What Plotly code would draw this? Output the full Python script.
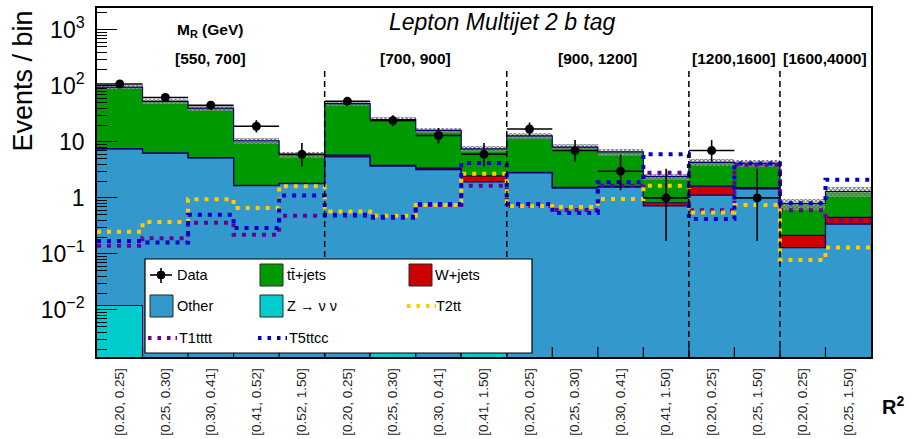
import plotly.graph_objects as go

# ---------------- data ----------------
bin_labels = ["[0.20, 0.25]", "[0.25, 0.30]", "[0.30, 0.41]", "[0.41, 0.52]", "[0.52, 1.50]",
              "[0.20, 0.25]", "[0.25, 0.30]", "[0.30, 0.41]", "[0.41, 1.50]",
              "[0.20, 0.25]", "[0.25, 0.30]", "[0.30, 0.41]", "[0.41, 1.50]",
              "[0.20, 0.25]", "[0.25, 1.50]",
              "[0.20, 0.25]", "[0.25, 1.50]"]
mr_groups = ["[550, 700]", "[700, 900]", "[900, 1200]", "[1200,1600]", "[1600,4000]"]
mr_group_sizes = [5, 4, 4, 2, 2]

znunu = [0.012, 0, 0, 0, 0, 0, 0.0017, 0, 0.0017, 0, 0, 0, 0, 0, 0, 0, 0]
other = [7.5, 6.3, 5.2, 1.65, 1.8, 5.4, 3.7, 3.2, 1.93, 2.8, 1.5, 1.55, 0.72, 1.12, 1.45, 0.13, 0.34]
wjets = [0.03, 0.03, 0.03, 0.02, 0.02, 0.4, 0.12, 0.2, 0.55, 0.05, 0.04, 0.06, 0.1, 0.5, 0.07, 0.085, 0.11]
ttjets = [87.5, 46.7, 34.8, 8.8, 4.1, 42.2, 21.2, 12.6, 5.0, 9.95, 6.5, 5.0, 1.6, 2.7, 2.6, 0.58, 0.85]
bkg_unc = [8, 5, 4, 1.2, 0.7, 4, 2.5, 1.8, 0.9, 1.6, 1.0, 1.0, 0.3, 0.6, 0.6, 0.18, 0.25]

data = [108, 62, 45, 19, 6, 53, 24, 13, 6, 17, 7, 3, 1, 7, 1, 0, 0]
data_err_dn = [10.3, 7.9, 6.7, 4.3, 2.38, 7.3, 4.9, 3.6, 2.38, 4.1, 2.58, 1.63, 0.83, 2.58, 0.83, 0, 0]
data_err_up = [11.4, 8.9, 7.7, 5.4, 3.58, 8.3, 5.9, 4.7, 3.58, 5.2, 3.77, 2.92, 2.30, 3.77, 2.30, 1.84, 1.84]

t2tt = [0.25, 0.37, 0.95, 0.66, 1.62, 0.57, 0.48, 0.75, 2.7, 0.72, 0.69, 0.96, 1.65, 0.55, 0.75, 0.078, 0.13]
t5ttcc = [0.17, 0.16, 0.5, 0.29, 1.1, 0.5, 0.46, 0.78, 4.2, 0.78, 0.54, 1.9, 6.0, 0.42, 4.1, 0.8, 2.1]
t1tttt = [0.14, 0.19, 0.36, 0.22, 0.48, 0.48, 0.44, 0.75, 1.65, 0.72, 0.61, 1.65, 2.8, 0.6, 3.9, 0.6, 0.4]

# ---------------- styles ----------------
FONT = "Liberation Sans"
C_TT = "rgb(0,153,0)"
C_OTHER = "rgb(51,153,204)"
C_Z = "rgb(0,204,204)"
C_W = "rgb(204,0,0)"
C_T2 = "rgb(255,204,0)"
C_T5 = "rgb(0,0,204)"
C_T1 = "rgb(102,0,153)"
NAVY = "rgb(0,0,110)"
SIG_DASH = "4px,6px"

n = len(bin_labels)
centers = [i + 0.5 for i in range(n)]
edges = list(range(n + 1))

cum_z = list(znunu)
cum_o = [a + b for a, b in zip(cum_z, other)]
cum_w = [a + b for a, b in zip(cum_o, wjets)]
cum_t = [a + b for a, b in zip(cum_w, ttjets)]


def step(vals):
    return vals + [vals[-1]]


fig = go.Figure()

# stacked backgrounds drawn as overlaid cumulative histograms (largest first)
for cum, col in [(cum_t, C_TT), (cum_w, C_W), (cum_o, C_OTHER)]:
    fig.add_trace(go.Bar(x=centers, y=cum, width=1.0, marker=dict(color=col, line=dict(width=0)),
                         showlegend=False, hoverinfo="skip"))
fig.add_trace(go.Bar(x=centers, y=cum_z, width=1.0, marker=dict(color=C_Z, line=dict(width=1, color=NAVY)),
                     showlegend=False, hoverinfo="skip"))

# outlines of stack levels
for cum in [cum_o, cum_w, cum_t]:
    fig.add_trace(go.Scatter(x=edges, y=step(cum), mode="lines", line=dict(color=NAVY, width=1.2, shape="hv"),
                             showlegend=False, hoverinfo="skip"))

# uncertainty band
fig.add_trace(go.Bar(x=centers, y=[2 * u for u in bkg_unc], base=[t - u for t, u in zip(cum_t, bkg_unc)],
                     width=1.0,
                     marker=dict(color="rgba(0,0,0,0)", line=dict(width=0),
                                 pattern=dict(shape="x", size=3, solidity=0.5, fgcolor="rgb(95,95,95)",
                                              bgcolor="rgba(255,255,255,0.35)", fillmode="replace")),
                     showlegend=False, hoverinfo="skip"))

# signals
for sig, col in [(t1tttt, C_T1), (t2tt, C_T2), (t5ttcc, C_T5)]:
    fig.add_trace(go.Scatter(x=edges, y=step(sig), mode="lines",
                             line=dict(color=col, width=4, shape="hv", dash=SIG_DASH),
                             showlegend=False, hoverinfo="skip"))

# data
fig.add_trace(go.Scatter(x=centers, y=data, mode="markers",
                         marker=dict(color="black", size=9),
                         error_y=dict(type="data", symmetric=False, array=data_err_up, arrayminus=data_err_dn,
                                      color="black", thickness=1.6, width=0),
                         error_x=dict(type="constant", value=0.5, color="black", thickness=1.6, width=0),
                         showlegend=False, hoverinfo="skip"))

# ---------------- layout helpers ----------------
L, R, T, B = 97, 871, 8, 357
W_PX, H_PX = R - L, B - T


def px(xp):
    return (xp - L) / W_PX


def py(yp):
    return (B - yp) / H_PX


shapes = []
annotations = []

# x-axis ticks at bin edges (inside, pointing up)
for e in edges[1:-1]:
    shapes.append(dict(type="line", xref="x", yref="paper", x0=e, x1=e, y0=0, y1=py(B - 10),
                       line=dict(color="black", width=1.2), layer="above"))

# M_R group separators and labels
pos = 0
for i, (lab, size) in enumerate(zip(mr_groups, mr_group_sizes)):
    annotations.append(dict(x=pos + size / 2, y=py(58), xref="x", yref="paper", text="<b>%s</b>" % lab,
                            showarrow=False, font=dict(family=FONT, size=15.5, color="black"),
                            xanchor="center", yanchor="middle"))
    pos += size
    if pos < n:
        shapes.append(dict(type="line", xref="x", yref="paper", x0=pos, x1=pos, y0=0, y1=py(67),
                           line=dict(color="black", width=1.5, dash="6px,4px")))

annotations += [
    dict(x=px(210), y=py(31), xref="paper", yref="paper", text="<b>M<sub>R</sub> (GeV)</b>",
         showarrow=False, font=dict(family=FONT, size=15.5, color="black"), xanchor="center", yanchor="middle"),
    dict(x=px(502), y=py(22), xref="paper", yref="paper", text="<i>Lepton Multijet 2 b tag</i>",
         showarrow=False, font=dict(family=FONT, size=23, color="black"), xanchor="center", yanchor="middle"),
    dict(x=px(22), y=py(9), xref="paper", yref="paper", text="Events / bin", textangle=-90,
         showarrow=False, font=dict(family=FONT, size=27, color="black"), xanchor="center", yanchor="top"),
    dict(x=px(893), y=py(405), xref="paper", yref="paper", text="<b>R<sup>2</sup></b>",
         showarrow=False, font=dict(family=FONT, size=20, color="black"), xanchor="center", yanchor="middle"),
    dict(x=px(869), y=py(2.5), xref="paper", yref="paper", text="2.3 fb<sup>-1</sup> (13 TeV)",
         showarrow=False, font=dict(family=FONT, size=28, color="black"), xanchor="right", yanchor="bottom"),
]

# legend box (drawn by hand to reproduce the 3-column ROOT legend)
shapes.append(dict(type="rect", xref="paper", yref="paper", x0=px(145), x1=px(532), y0=py(353), y1=py(259),
                   fillcolor="white", line=dict(color="black", width=1.2), layer="above"))


def leg_rect(x0, yc, col):
    shapes.append(dict(type="rect", xref="paper", yref="paper", x0=px(x0), x1=px(x0 + 23),
                       y0=py(yc + 11), y1=py(yc - 11), fillcolor=col,
                       line=dict(color="rgb(40,40,40)", width=1), layer="above"))


def leg_dots(x0, yc, col):
    for k in range(3):
        shapes.append(dict(type="rect", xref="paper", yref="paper", x0=px(x0 + 9.5 * k), x1=px(x0 + 9.5 * k + 3.5),
                           y0=py(yc + 2), y1=py(yc - 2), fillcolor=col, line=dict(width=0), layer="above"))
    shapes.append(dict(type="rect", xref="paper", yref="paper", x0=px(x0 + 27.5), x1=px(x0 + 29),
                       y0=py(yc + 2), y1=py(yc - 2), fillcolor=col, line=dict(width=0), layer="above"))


def leg_text(x0, yc, txt):
    annotations.append(dict(x=px(x0), y=py(yc), xref="paper", yref="paper", text=txt, showarrow=False,
                            font=dict(family=FONT, size=14.5, color="black"), xanchor="left", yanchor="middle"))


# Data symbol
shapes.append(dict(type="line", xref="paper", yref="paper", x0=px(150), x1=px(172), y0=py(275), y1=py(275),
                   line=dict(color="black", width=1.6), layer="above"))
shapes.append(dict(type="line", xref="paper", yref="paper", x0=px(161), x1=px(161), y0=py(268), y1=py(283),
                   line=dict(color="black", width=1.6), layer="above"))
shapes.append(dict(type="circle", xref="paper", yref="paper", x0=px(157), x1=px(165), y0=py(279), y1=py(271),
                   fillcolor="black", line=dict(color="black", width=1), layer="above"))
leg_text(175, 275, "Data")
leg_rect(260, 275, C_TT)
leg_text(285, 275, "tt\u0304+jets")
leg_rect(409, 275, C_W)
leg_text(433, 275, "W+jets")
leg_rect(150, 306, C_OTHER)
leg_text(175, 306, "Other")
leg_rect(260, 306, C_Z)
leg_text(285, 306, "Z \u2192 \u03bd \u03bd")
leg_dots(407, 306, C_T2)
leg_text(434, 306, "T2tt")
leg_dots(148, 338, C_T1)
leg_text(177, 338, "T1tttt")
leg_dots(258, 338, C_T5)
leg_text(287, 338, "T5ttcc")

ymin_log, ymax_log = -2.84, 3.39
major_y = [0.01, 0.1, 1, 10, 100, 1000]
major_y_text = ["10<sup>\u22122</sup>", "10<sup>\u22121</sup>", "1", "10", "10<sup>2</sup>", "10<sup>3</sup>"]
minor_y = [m * 10 ** e for e in range(-3, 4) for m in range(2, 10)]

fig.update_layout(
    width=912, height=439,
    margin=dict(l=L, r=912 - R, t=T, b=439 - B, autoexpand=False),
    paper_bgcolor="white", plot_bgcolor="white",
    barmode="overlay", bargap=0,
    showlegend=False,
    font=dict(family=FONT, color="black"),
    shapes=shapes, annotations=annotations,
    xaxis=dict(range=[0, n], tickmode="array", tickvals=centers, ticktext=bin_labels, tickangle=-90,
               ticks="", tickfont=dict(family=FONT, size=13.5, color="rgb(30,30,30)"),
               showline=True, linecolor="black", linewidth=1.5, mirror=True, showgrid=False, zeroline=False,
               ticklabelstandoff=4, automargin=False),
    yaxis=dict(type="log", range=[ymin_log, ymax_log], tickmode="array", tickvals=major_y,
               ticktext=major_y_text, ticks="inside", ticklen=20, tickwidth=1.2, tickcolor="black",
               tickfont=dict(family=FONT, size=23, color="black"),
               showline=True, linecolor="black", linewidth=1.5, mirror=True, showgrid=False, zeroline=False,
               ticklabelstandoff=6, automargin=False,
               minor=dict(tickmode="array", tickvals=minor_y, ticks="inside", ticklen=10, tickcolor="black",
                          tickwidth=1.2, showgrid=False)),
)

fig.write_html("out.html", config={"displayModeBar": False},
               post_script="document.body.style.margin='0';")
